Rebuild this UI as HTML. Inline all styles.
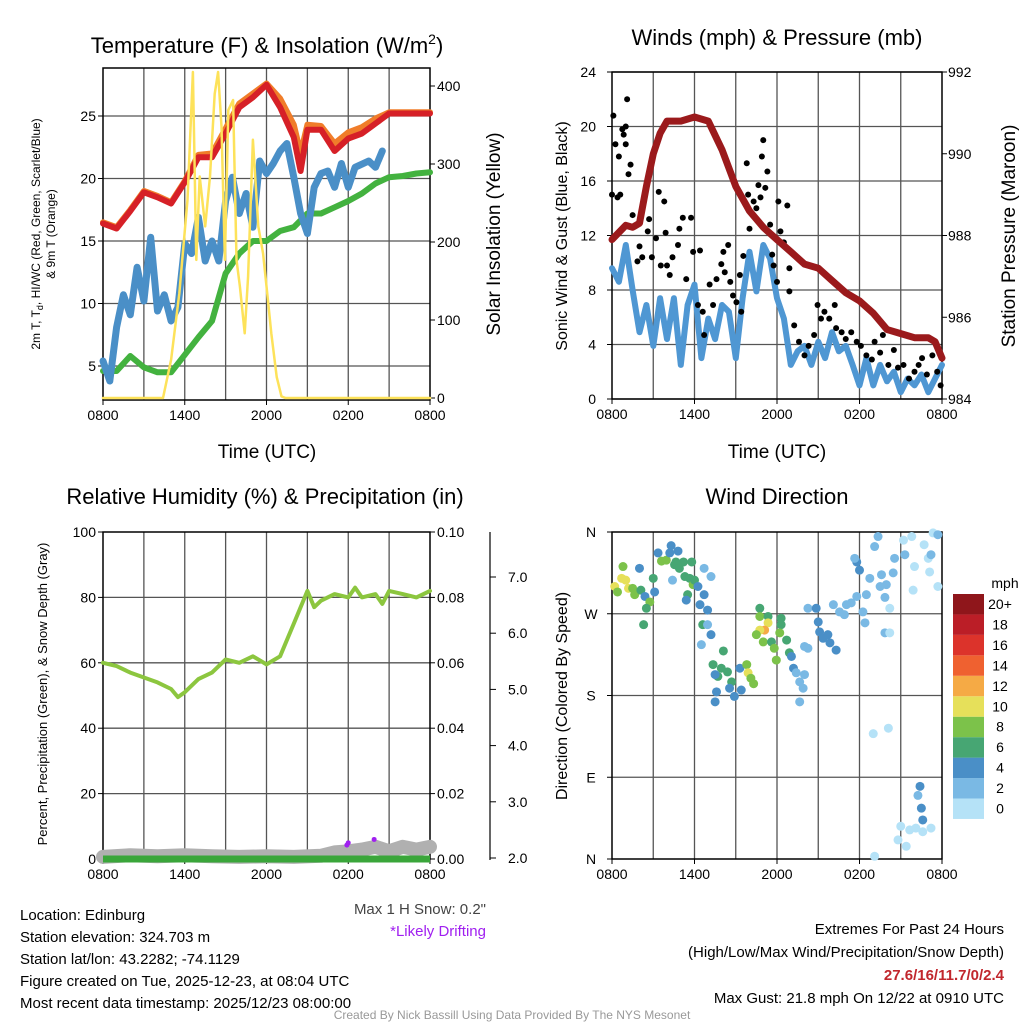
<!DOCTYPE html>
<html><head><meta charset="utf-8"><style>
body{margin:0;background:#fff}
svg{display:block;font-family:"Liberation Sans",sans-serif}
</style></head><body>
<svg id="s" width="1024" height="1024" viewBox="0 0 1024 1024" xmlns="http://www.w3.org/2000/svg"></svg>
<script>
// ---- Panel 1 data (hours since 0800 UTC) ----
const tempHours=[0,1,2,3,4,5,6,7,8,9,10,11,12,13,14,14.5,15,16,17,18,19,20,21,22,23,24];
const tempRed=[16.4,16.0,17.4,18.9,18.5,18.0,19.7,21.7,21.7,23.6,25.7,26.5,27.5,25.7,23.3,20.6,23.9,23.9,22.2,23.2,23.6,24.4,25.2,25.2,25.2,25.2];
const tempOrange=[16.5,16.1,17.5,19.0,18.6,18.1,19.8,21.9,22.0,24.0,26.0,26.8,27.6,26.4,24.3,22.0,24.3,24.2,22.8,23.7,24.1,24.8,25.3,25.3,25.3,25.3];
const dewHours=[0,0.5,1,1.5,2,2.5,3,3.5,4,4.5,5,5.5,6,6.5,7,7.5,8,8.5,9,9.5,10,10.5,11,11.5,12,12.5,13,13.5,14,14.5,15,15.5,16,16.5,17,17.5,18,18.5,19.5,20,20.5];
const dewBlue=[5.4,3.8,8.1,10.7,9.1,12.9,10.2,15.3,9.4,10.7,8.6,9.7,14.8,14.0,16.9,13.4,15.0,13.4,18.2,20.1,17.2,18.8,16.1,21.4,20.4,21.2,22.2,22.8,20.1,17.2,15.6,19.3,20.4,20.6,19.3,21.2,19.3,20.9,21.4,20.9,22.2];
const wcGreen=[4.6,4.6,5.8,4.9,4.5,4.5,5.9,7.3,8.6,12.4,14.0,15.0,15.0,15.8,16.1,17.2,17.2,17.7,18.2,18.8,19.6,20.1,20.2,20.4,20.5];
const greenHours=[0,1,2,3,4,5,6,7,8,9,10,11,12,13,14,15,16,17,18,19,20,21,22,23,24];
const solarHours=[0,4.4,5.0,5.6,6.2,6.6,6.85,7.1,7.5,7.85,8.2,8.45,8.7,8.95,9.2,9.55,9.8,10.05,10.4,10.65,11.0,11.4,11.75,12.1,12.35,12.75,13.1,13.4,24];
const solarVals=[0,0,49,134,254,418,177,284,220,284,390,418,348,177,369,382,177,143,83,156,331,220,185,126,83,27,2,0,0];
// ---- Panel 2 data ----
const presHours=[0,1,1.5,2,2.5,3,3.5,4,5,6,7,8,9,10,11,12,13,14,15,16,17,18,19,20,21,22,23,23.5,24];
const presVals=[987.9,988.25,988.2,988.3,989.2,990.0,990.5,990.8,990.8,990.9,990.8,990.1,989.2,988.6,988.2,987.9,987.6,987.3,987.2,986.9,986.6,986.4,986.1,985.7,985.6,985.5,985.5,985.4,985.0];
const windHours=[0,0.5,1,1.5,2,2.5,3,3.5,4,4.5,5,5.5,6,6.5,7,7.5,8,8.5,9,9.5,10,10.5,11,11.5,12,12.5,13,13.5,14,14.5,15,15.5,16,16.5,17,17.5,18,18.5,19,19.5,20,20.5,21,21.5,22,22.5,23,23.5,24];
const windVals=[9.6,8.6,11.3,8.0,4.9,6.9,3.9,7.4,4.4,7.4,2.5,6.9,8.4,3.0,5.9,4.4,6.9,6.4,3.0,7.4,10.8,7.9,11.3,10.3,7.4,5.9,2.5,3.5,3.9,2.5,4.2,3.0,4.9,3.5,3.9,2.5,1.0,3.0,1.0,2.5,1.3,2.0,0.5,1.5,1.0,1.8,0.5,1.5,2.5];
const gustHours=[0,0.1,0.25,0.4,0.5,0.75,0.85,1.0,1.1,1.0,1.2,1.35,0.6,1.5,1.85,2.0,2.2,2.6,2.7,2.9,3.2,3.4,3.55,3.8,3.9,4.0,4.2,4.4,4.8,4.9,5.15,5.4,5.75,5.9,6.4,6.25,6.6,6.7,7.1,7.35,7.6,7.95,8.1,8.2,8.45,8.6,8.8,9.05,9.3,9.4,9.55,9.8,9.9,10.0,10.3,10.5,10.65,10.8,10.9,11.0,11.3,11.15,11.5,11.65,11.75,12.0,12.1,12.25,12.5,12.75,12.9,12.9,13.25,13.6,14.0,14.3,14.7,14.95,15.2,15.45,15.8,16.2,16.3,16.7,17.0,17.4,17.8,18.1,18.5,18.9,19.1,19.5,19.7,20.1,20.5,20.8,21.2,21.6,22.0,22.3,22.55,22.9,23.3,23.65,23.9];
const gustVals=[15.0,20.8,18.7,14.8,17.8,19.8,19.4,20.0,22.0,18.7,16.5,17.2,15.0,13.5,10.1,11.2,10.4,12.3,13.2,10.4,11.8,15.2,9.8,14.5,12.2,9.8,9.1,10.4,11.3,12.5,13.3,8.8,13.3,10.8,10.9,6.9,6.4,4.7,8.4,6.9,8.8,9.9,10.8,9.3,11.3,8.6,7.6,7.1,9.1,6.4,10.5,17.3,15.0,12.5,14.5,14.0,15.7,14.8,17.8,19.0,16.7,15.5,12.8,10.6,9.8,8.6,14.5,12.3,11.5,14.2,9.6,7.9,5.4,4.2,3.2,3.9,4.7,6.9,5.9,6.4,5.9,6.9,5.2,4.9,4.4,4.9,4.2,3.9,3.2,2.9,4.2,3.4,4.7,2.5,3.6,2.3,2.5,1.5,2.0,2.5,3.0,1.8,3.2,2.0,1.0];
// ---- Panel 3 data ----
const rhHours=[0,1,2,3,4,5,5.5,6,7,8,9,10,11,12,13,14,15,15.5,16,17,18,18.5,19,20,20.5,21,22,23,24];
const rhVals=[60,59,57,55.5,54,52,49.5,51,55,57,61,60,62,59.5,62,72,82,77,79,81,80,83,80,81,78,82,81,80,82];
const snowHours=[0,2,4,6,8,10,12,14,16,17,18,19,20,21,22,23,24];
const snowVals=[2.02,2.05,2.03,2.05,2.03,2.02,2.03,2.02,2.04,2.1,2.12,2.15,2.2,2.12,2.2,2.15,2.2];
const driftHours=[17.9,18.0,19.9];
const driftVals=[2.23,2.27,2.33];
// ---- Panel 4 data ----
const dirHours=[0.2,0.7,1.0,1.2,0.8,0.4,1.65,1.5,2.1,2.0,2.4,2.75,2.5,2.3,3.1,3.0,3.35,3.6,3.95,4.2,4.3,4.8,4.55,4.65,4.9,5.3,5.2,5.8,5.65,5.9,6.0,6.25,5.5,5.4,4.4,6.7,7.2,6.7,6.4,6.95,6.6,6.95,7.2,6.5,8.1,7.35,7.95,8.4,7.7,7.5,8.7,8.55,7.6,7.5,8.9,9.4,9.3,9.8,9.9,10.1,10.3,10.75,10.75,11.35,11.35,11.1,10.75,10.5,11.0,11.6,11.8,11.95,12.3,12.3,12.2,12.7,12.9,13.05,13.2,13.4,14.0,13.65,13.9,13.65,14.0,14.25,14.25,14.85,15.0,15.1,15.35,15.7,15.85,16.3,16.1,16.55,16.9,17.05,17.4,17.8,18.25,18.4,18.5,17.8,18.0,17.65,19.1,19.35,18.75,19.6,19.95,20.45,20.55,19.5,19.85,20.2,19.85,20.2,21.2,21.8,22.0,21.3,22.7,23.0,23.1,23.35,23.7,23.7,21.9,23.2,19.0,20.1,22.4,22.5,22.6,22.25,21.0,21.65,20.8,21.4,22.6,23.2,22.1,19.1];
const dirVals=[300,309,307,298,322,294,291,298,296,320,289,283,276,258,294,309,337,328,329,337,345,339,324,327,320,311,327,327,309,302,307,300,291,285,307,320,311,291,280,274,258,258,247,236,229,214,210,206,201,203,195,188,184,173,179,186,210,214,205,199,193,276,267,267,260,252,252,247,239,239,232,219,265,258,249,241,227,223,210,205,203,195,188,173,234,232,276,276,261,250,243,247,238,230,280,272,269,280,282,289,272,260,291,327,318,331,344,355,309,313,302,315,331,300,288,276,249,249,351,355,322,335,346,331,316,359,357,300,296,335,138,144,80,56,43,70,36,32,21,14,30,34,34,3];
const dirSpeeds=[11,10,11,10,8,8,8,9,6,5,5,9,6,6,5,6,5,9,9,5,5,5,6,6,6,6,6,6,6,8,6,5,6,5,3,3,3,5,5,5,6,3,5,3,6,6,6,6,6,5,6,5,5,5,5,5,5,9,10,9,9,6,9,6,10,13,10,9,9,6,8,9,6,6,8,6,6,5,4,3,3,3,3,3,2,3,3,5,5,5,5,5,5,5,3,3,3,3,3,3,3,3,3,4,4,3,3,3,2,3,2,3,3,3,3,1,3,1,1,1,1,3,1,1,1,1,3,1,1,3,1,1,4,4,4,2,1,1,1,1,1,1,1,1];
const speedBins=["0","2","4","6","8","10","12","14","16","18","20+"];
const binColors=["#b5e2f7","#7ab9e4","#4a8fc7","#47a673","#7cc24a","#e6e05a","#f5aa45","#ef6130","#dc332b","#bb1e27","#8f161b"];
const tempTicks=[5,10,15,20,25], solarTicks=[0,100,200,300,400];
const windTicks=[0,4,8,12,16,20,24], presTicks=[984,986,988,990,992];
const rhTicks=[0,20,40,60,80,100], precipTicks=["0.00","0.02","0.04","0.06","0.08","0.10"], snowTicks=["2.0","3.0","4.0","5.0","6.0","7.0"];
const dirTicks=["N","E","S","W","N"];
const timeTicks=["0800","1400","2000","0200","0800"];

const S=document.getElementById('s');
const NS='http://www.w3.org/2000/svg';
function mk(tag,attrs,name,parent){const e=document.createElementNS(NS,tag);for(const k in attrs)e.setAttribute(k,attrs[k]);


(parent||S).appendChild(e);return e;}
function txt(x,y,s,size,anchor,name,extra){const t=mk('text',Object.assign({x:x,y:y,'font-size':size,'text-anchor':anchor||'middle',fill:'#000'},extra||{}),name);t.textContent=s;return t;}
function lin(a,b,c,d,col,w,name){return mk('line',{x1:a,y1:b,x2:c,y2:d,stroke:col,'stroke-width':w},name);}
function path(xs,ys,fx,fy,col,w,name){let d='';for(let i=0;i<xs.length;i++)d+=(i?'L':'M')+fx(xs[i]).toFixed(1)+' '+fy(ys[i]).toFixed(1);return mk('path',{d:d,fill:'none',stroke:col,'stroke-width':w,'stroke-linejoin':'round','stroke-linecap':'round'},name);}
function frame(x0,x1,y0,y1,hticksY,name){
  for(let h=3;h<24;h+=3){const x=x0+h*(x1-x0)/24;lin(x,y0,x,y1,'#555',1.3,name+'-vgrid');}
  hticksY.forEach(y=>lin(x0,y,x1,y,'#555',1.3,name+'-hgrid'));
  mk('rect',{x:x0,y:y0,width:x1-x0,height:y1-y0,fill:'none',stroke:'#000','stroke-width':1.5},name+'-frame');
  timeTicks.forEach((t,i)=>{const x=x0+i*6*(x1-x0)/24;txt(x,y1+20,t,14,'middle',name+'-x-tick');lin(x,y1,x,y1+5,'#000',1,name+'-x-tickmark');});
}

// ===== Panel 1 =====
{const x0=103,x1=430,y0=68,y1=400;
const X=h=>x0+h*(x1-x0)/24, Y=t=>366-(t-5)*12.5, YS=v=>398-v*0.78;
frame(x0,x1,y0,y1,tempTicks.map(Y),'temp');
tempTicks.forEach(t=>{txt(96,Y(t)+5,String(t),14,'end','temp-y-tick');lin(x0-5,Y(t),x0,Y(t),'#000',1,'temp-y-tickmark');});
solarTicks.forEach(v=>{txt(437,YS(v)+5,String(v),14,'start','solar-y-tick');lin(x1,YS(v),x1+5,YS(v),'#000',1,'solar-y-tickmark');});
path(greenHours,wcGreen,X,Y,'#43b23f',6,'series-windchill-green');
path(dewHours,dewBlue,X,Y,'#4a8fc7',7,'series-dewpoint-blue');
path(tempHours,tempOrange,X,Y,'#f07d2a',6,'series-9m-temp-orange');
path(tempHours,tempRed,X,Y,'#d62027',6,'series-2m-temp-red');
path(solarHours,solarVals,X,YS,'#fde25a',2.5,'series-solar-yellow');
txt(267,53,'Temperature (F) & Insolation (W/m',22,'middle','temp-title').innerHTML='Temperature (F) &amp; Insolation (W/m<tspan dy="-9" font-size="14">2</tspan><tspan dy="9">)</tspan>';
txt(267,458,'Time (UTC)',19,'middle','temp-x-title');
txt(40,234,'2m T, T',12,'middle','temp-y-title-1',{transform:'rotate(-90 40 234)'}).innerHTML='2m T, T<tspan dy="3" font-size="9">d</tspan><tspan dy="-3">, HI/WC (Red, Green, Scarlet/Blue)</tspan>';
txt(55,234,'& 9m T (Orange)',12,'middle','temp-y-title-2',{transform:'rotate(-90 55 234)'});
txt(500,234,'Solar Insolation (Yellow)',19,'middle','solar-y-title',{transform:'rotate(-90 500 234)'});
}
// ===== Panel 2 =====
{const x0=612,x1=942,y0=72,y1=399;
const X=h=>x0+h*(x1-x0)/24, Y=v=>y1-v*(y1-y0)/24, YP=p=>y1-(p-984)*(y1-y0)/8;
frame(x0,x1,y0,y1,windTicks.map(Y),'wind');
windTicks.forEach(v=>{txt(596,Y(v)+5,String(v),14,'end','wind-y-tick');lin(x0-5,Y(v),x0,Y(v),'#000',1,'wind-y-tickmark');});
presTicks.forEach(p=>{txt(948,YP(p)+5,String(p),14,'start','pressure-y-tick');lin(x1,YP(p),x1+5,YP(p),'#000',1,'pressure-y-tickmark');});
path(windHours,windVals,X,Y,'#4f97d3',6,'series-sonic-wind-blue');
gustHours.forEach((h,i)=>mk('circle',{cx:X(h),cy:Y(gustVals[i]),r:3,fill:'#000'},'gust-point'));
path(presHours,presVals,X,YP,'#9b1a1c',7,'series-pressure-maroon');
txt(777,45,'Winds (mph) & Pressure (mb)',22,'middle','wind-title');
txt(777,458,'Time (UTC)',19,'middle','wind-x-title');
txt(567,236,'Sonic Wind & Gust (Blue, Black)',16,'middle','wind-y-title',{transform:'rotate(-90 567 236)'});
txt(1015,236,'Station Pressure (Maroon)',19,'middle','pressure-y-title',{transform:'rotate(-90 1015 236)'});
}
// ===== Panel 3 =====
{const x0=103,x1=430,y0=532,y1=859;
const X=h=>x0+h*(x1-x0)/24, Y=v=>y1-v*(y1-y0)/100, YS=v=>858-(v-2)*56.2;
frame(x0,x1,y0,y1,rhTicks.slice(1,5).map(Y),'rh');
rhTicks.forEach(v=>{txt(96,Y(v)+5,String(v),14,'end','rh-y-tick');lin(x0-5,Y(v),x0,Y(v),'#000',1,'rh-y-tickmark');});
precipTicks.forEach((s,i)=>{const y=y1-i*(y1-y0)/5;txt(437,y+5,s,14,'start','precip-y-tick');lin(x1,y,x1+5,y,'#000',1,'precip-y-tickmark');});
lin(490,532,490,860,'#000',1.2,'snow-axis-line');
snowTicks.forEach((s,i)=>{const y=YS(2+i);txt(508,y+5,s,14,'start','snow-y-tick');lin(490,y,496,y,'#000',1,'snow-y-tickmark');});
path(snowHours,snowVals,X,YS,'#b0b0b0',14,'series-snow-depth-gray');
lin(x0,y1,x1,y1,'#3aa63a',7,'series-precip-green');
driftHours.forEach((h,i)=>mk('circle',{cx:X(h),cy:YS(driftVals[i]),r:2.5,fill:'#a020f0'},'drift-point'));
path(rhHours,rhVals,X,Y,'#8cc63f',4,'series-rh-green');
txt(265,504,'Relative Humidity (%) & Precipitation (in)',22,'middle','rh-title');
txt(47,694,'Percent, Precipitation (Green), & Snow Depth (Gray)',13,'middle','rh-y-title',{transform:'rotate(-90 47 694)'});
}
// ===== Panel 4 =====
{const x0=612,x1=942,y0=532,y1=859;
const X=h=>x0+h*(x1-x0)/24, Y=d=>y1-d*(y1-y0)/360;
frame(x0,x1,y0,y1,[90,180,270].map(Y),'dir');
dirTicks.forEach((s,i)=>{const y=Y(i*90);txt(591,y+5,s,14,'middle','dir-y-tick');lin(x0-5,y,x0,y,'#000',1,'dir-y-tickmark');});
dirHours.forEach((h,i)=>{const sp=dirSpeeds[i];const b=Math.min(10,Math.floor(sp/2));mk('circle',{cx:X(h),cy:Y(dirVals[i]),r:4.5,fill:binColors[b]},'direction-point');});
txt(777,504,'Wind Direction',22,'middle','dir-title');
txt(567,696,'Direction (Colored By Speed)',16,'middle','dir-y-title',{transform:'rotate(-90 567 696)'});
const bt=594,bh=20.45;
for(let i=0;i<11;i++){const y=bt+(10-i)*bh;mk('rect',{x:953,y:y,width:31,height:bh,fill:binColors[i]},'colorbar-box');txt(1000,y+15,speedBins[i],14,'middle','colorbar-label');}
txt(1005,588,'mph',14,'middle','colorbar-title');
}
// ===== Footer text =====
const info=['Location: Edinburg','Station elevation: 324.703 m','Station lat/lon: 43.2282; -74.1129','Figure created on Tue, 2025-12-23, at 08:04 UTC','Most recent data timestamp: 2025/12/23 08:00:00'];
info.forEach((s,i)=>txt(20,920+i*22,s,15,'start','station-info-line'));
txt(486,914,'Max 1 H Snow: 0.2"',15,'end','max-snow-note',{fill:'#444'});
txt(486,936,'*Likely Drifting',15,'end','drifting-note',{fill:'#a020f0'});
txt(1004,934,'Extremes For Past 24 Hours',15,'end','extremes-title');
txt(1004,957,'(High/Low/Max Wind/Precipitation/Snow Depth)',15,'end','extremes-subtitle');
txt(1004,980,'27.6/16/11.7/0/2.4',15,'end','extremes-values',{fill:'#c1272d','font-weight':'bold'});
txt(1004,1003,'Max Gust: 21.8 mph On 12/22 at 0910 UTC',15,'end','max-gust');
txt(512,1019,'Created By Nick Bassill Using Data Provided By The NYS Mesonet',12,'middle','credit',{fill:'#999'});
</script>
</body></html>
